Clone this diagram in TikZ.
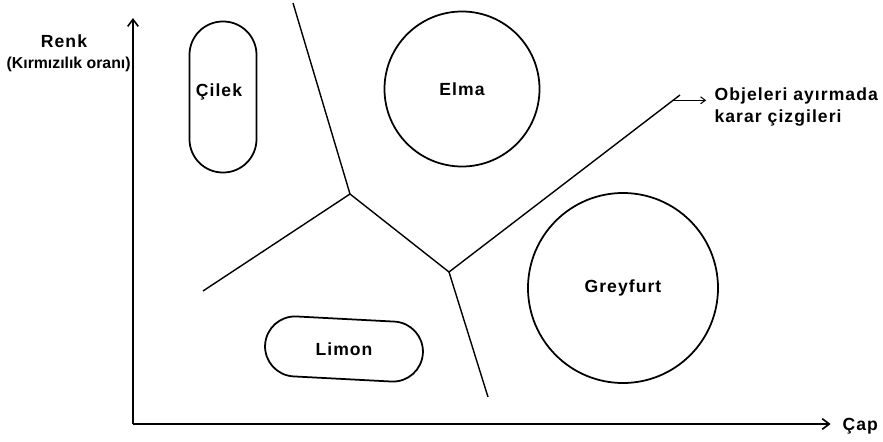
\documentclass[tikz,border=0pt]{standalone}
\usepackage{fontspec}
\setmainfont{Liberation Sans}
\newfontfamily\lblfont[LetterSpace=6]{Liberation Sans}
\usetikzlibrary{arrows.meta, positioning, calc}
\tikzset{
  % Fruit regions
  fruitcircle/.style={circle, draw, line width=1.5pt, inner sep=0pt, minimum size=#1},
  fruitpill/.style n args={3}{rectangle, draw, line width=1.5pt, inner sep=0pt,
    minimum width=#1, minimum height=#2, rounded corners=#3},
  fruitlabel/.style={font=\lblfont\bfseries\fontsize{15}{18}\selectfont},
  axislabel/.style={font=\bfseries\fontsize{13.5}{16}\selectfont, inner sep=1pt},
  % Lines
  axisarrow/.style={-{Straight Barb[length=6pt, width=9pt, line width=1.4pt]}, line width=1.4pt},
  decision/.style={line width=1.2pt},
  notearrow/.style={-{Straight Barb[length=4pt, width=6pt]}, line width=0.9pt}
}

\begin{document}
\begin{tikzpicture}[x=0.03cm, y=-0.03cm]
  \useasboundingbox (0,0) rectangle (883,441);

  % Axes
  \coordinate (origin) at (133,424);
  \coordinate (ytop) at (133,18);
  \node[fruitlabel, anchor=west, inner sep=2pt] (cap) at (840,426) {Çap};
  \draw[axisarrow] (origin) -- (ytop);
  \draw[axisarrow, shorten >=8pt] (origin) -- (origin -| cap.west);
  \node[axislabel, anchor=east] (oran) at (132,64) {(Kırmızılık oranı)};
  \node[fruitlabel] (renk) at (64,41) {Renk};

  % Fruits
  \node[fruitpill={2.01cm}{4.53cm}{1cm}] (cilek) at (223,97) {};
  \node[fruitlabel] at (219,92) {Çilek};
  \node[fruitcircle=4.65cm, fruitlabel] (elma) at (462,89) {Elma};
  \node[fruitcircle=5.7cm, fruitlabel] (greyfurt) at (623,288) {Greyfurt};
  \node[fruitpill={4.74cm}{1.8cm}{0.9cm}, rotate=-3] (limon) at (344,349) {};
  \node[fruitlabel] at (limon) {Limon};

  % Decision lines
  \coordinate (j1) at (350,194);
  \coordinate (j2) at (449,272);
  \coordinate (top) at (293,3);
  \coordinate (left) at (203,291);
  \coordinate (bottom) at (488,397);
  \coordinate (right) at (680,95);
  \draw[decision] (top) -- (j1) -- (left);
  \draw[decision] (j1) -- (j2) -- (bottom);
  \draw[decision] (j2) -- (right);

  % Note
  \coordinate (notestart) at ($(j2)!0.97!(right)$);
  \node[fruitlabel, anchor=west, align=left, inner sep=2pt] (karar) at (712,107)
    {Objeleri ayırmada\\karar çizgileri};
  \draw[notearrow, shorten >=5pt] (notestart) -- (notestart -| karar.west);
\end{tikzpicture}
\end{document}
